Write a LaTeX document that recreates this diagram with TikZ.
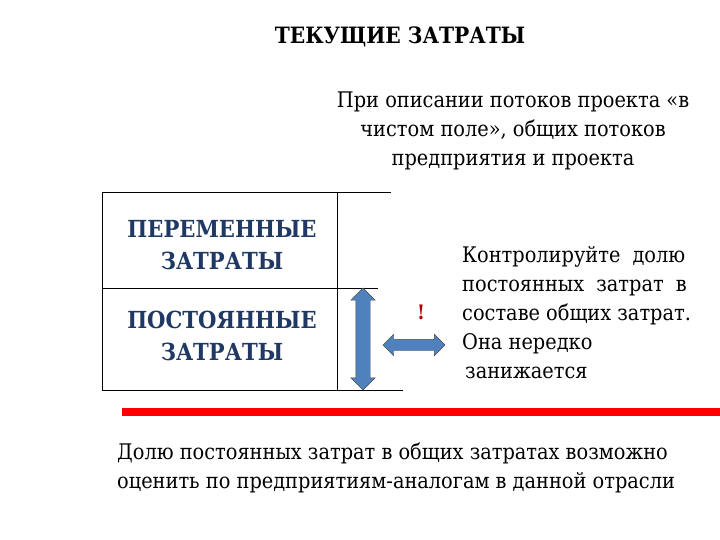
\documentclass[tikz,border=0pt]{standalone}
\usepackage{fontspec}
\setmainfont{DejaVu Serif Condensed}
\usetikzlibrary{shapes.arrows}
\definecolor{dblue}{HTML}{1F3864}
\definecolor{ablue}{HTML}{4F81BD}
\begin{document}
\begin{tikzpicture}[x=1pt,y=-1pt,
  txt/.style={font=\fontsize{21.5}{29}\selectfont,align=center,inner sep=0},
  boxtxt/.style={font=\bfseries\fontsize{23.5}{32}\selectfont,text=dblue,align=center,inner sep=0},
  darr/.style={double arrow,fill=ablue,draw=black!70,double arrow head extend=5pt,minimum height=#1,inner xsep=0pt,inner ysep=7pt}]
\useasboundingbox (0,0) rectangle (720,540);
\node[font=\bfseries\fontsize{22.5}{22}\selectfont,inner sep=0] (title) at (400,37) {ТЕКУЩИЕ ЗАТРАТЫ};
\node[txt] (top) at (513,131) {При описании потоков проекта «в\\чистом поле», общих потоков\\предприятия и проекта};
\coordinate (a1) at (102,192); \coordinate (a2) at (391,192);
\coordinate (b1) at (102,288); \coordinate (b2) at (378,288);
\coordinate (c1) at (102,390); \coordinate (c2) at (403,390);
\coordinate (v1) at (337,192); \coordinate (v2) at (337,390);
\draw (a1)--(a2) (b1)--(b2) (c1)--(c2) (a1)--(c1) (v1)--(v2);
\node[boxtxt] (var) at (222,245) {ПЕРЕМЕННЫЕ\\ЗАТРАТЫ};
\node[boxtxt] (fix) at (222,336) {ПОСТОЯННЫЕ\\ЗАТРАТЫ};
\node[darr=102pt,rotate=90] (va) at (363,339) {};
\node[darr=62pt,inner ysep=5.5pt] (ha) at (414,345) {};
\node[text=red!70!black,font=\bfseries\fontsize{20}{20}\selectfont,inner sep=0] (ex) at (421,312) {!};
\node[font=\fontsize{21.5}{29}\selectfont,align=left,inner sep=0,anchor=west] (ctl) at (462,313) {Контролируйте\hspace{6pt} долю\\постоянных\hspace{6pt} затрат\hspace{6pt} в\\составе общих затрат.\\Она нередко\\\hspace*{3pt}занижается};
\fill[red] (122,408) rectangle (720,416);
\node[txt,align=left,anchor=west] (bot) at (117,468) {Долю постоянных затрат в общих затратах возможно\\оценить по предприятиям-аналогам в данной отрасли};
\end{tikzpicture}
\end{document}
